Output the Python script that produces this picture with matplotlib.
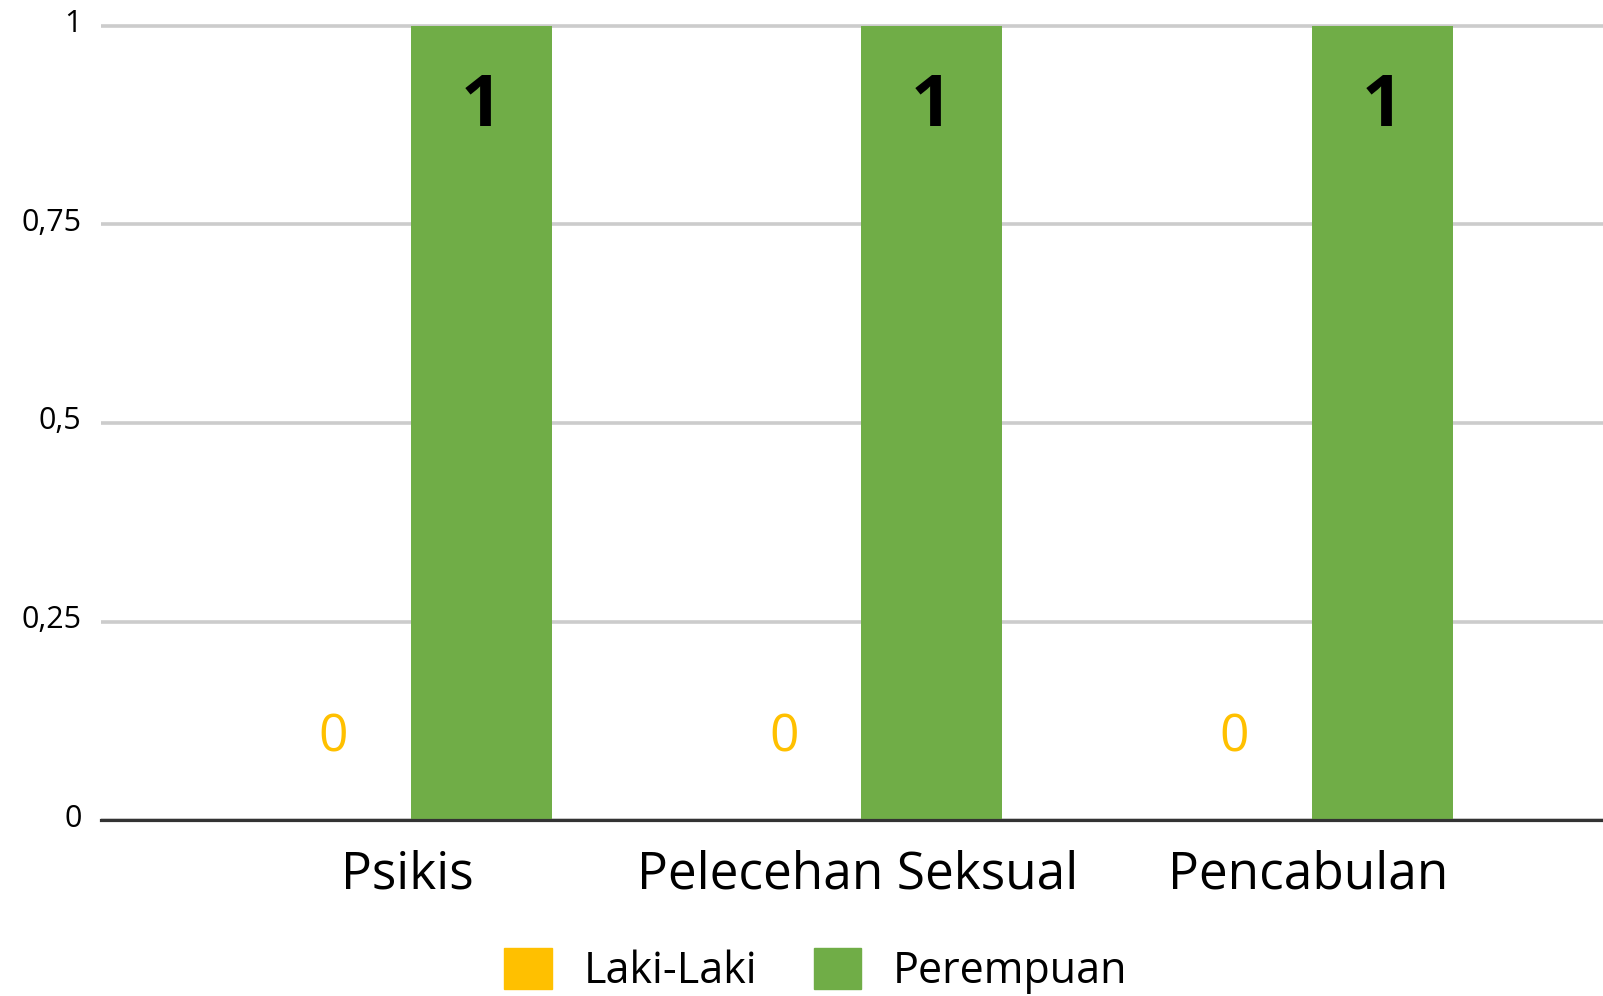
import matplotlib
matplotlib.use("Agg")
import matplotlib.pyplot as plt
import matplotlib.transforms as mtransforms
from matplotlib.patches import Patch
import numpy as np

# data
categories = ['Psikis', 'Pelecehan Seksual', 'Pencabulan']
laki_laki = [0, 0, 0]
perempuan = [1, 1, 1]
series_names = ['Laki-Laki', 'Perempuan']
y_ticks = [0, 0.25, 0.5, 0.75, 1]
y_tick_labels = ['0', '0,25', '0,5', '0,75', '1']

YELLOW = '#FFC000'
GREEN = '#70AD47'

plt.rcParams['font.family'] = ['Open Sans', 'DejaVu Sans']

fig = plt.figure(figsize=(16.03, 9.96), dpi=100)
ax = fig.add_axes([0.063, 0.1767, 0.937, 0.7996])

x = np.arange(len(categories))
width = 0.313
offset = 0.164

# the two series side by side
ax.bar(x - offset, laki_laki, width, color=YELLOW, zorder=3)
ax.bar(x + offset, perempuan, width, color=GREEN, zorder=3)

# value labels: orange zeros low down, bold black ones near the bar top
for xi, v in zip(x, laki_laki):
    ax.text(xi - offset, v + 0.103, f'{v}', ha='center', va='center',
            fontsize=37, color=YELLOW, zorder=4)
for xi, v in zip(x, perempuan):
    ax.text(xi + offset, v - 0.102, f'{v}', ha='center', va='center',
            fontsize=52, fontweight='bold', color='black', zorder=4)

ax.set_xlim(-0.680, 2.654)
ax.set_ylim(0, 1.003)

# axes styling
ax.set_yticks(y_ticks)
ax.set_yticklabels(y_tick_labels, fontsize=22)
ax.set_xticks(x)
ax.set_xticklabels(categories, fontsize=37)
ax.tick_params(axis='both', length=0)
ax.tick_params(axis='y', pad=14)
ax.tick_params(axis='x', pad=21)

shift = mtransforms.ScaledTranslation(0, 5 / 100, fig.dpi_scale_trans)
for lbl in ax.get_yticklabels():
    lbl.set_transform(lbl.get_transform() + shift)

ax.grid(axis='y', color='#CCCCCC', linewidth=2.6, zorder=0)
for side in ['top', 'right', 'left']:
    ax.spines[side].set_visible(False)
ax.spines['bottom'].set_color('#333333')
ax.spines['bottom'].set_linewidth(2.3)
ax.spines['bottom'].set_zorder(5)

# legend below the chart
handles = [Patch(color=YELLOW), Patch(color=GREEN)]
fig.legend(handles, series_names, loc='center',
           bbox_to_anchor=(816 / 1603, 1 - 971 / 996), ncol=2, frameon=False,
           fontsize=31, handlelength=1.1, handleheight=1.1,
           handletextpad=0.75, columnspacing=1.3)

fig.savefig('out.png', dpi=100)
